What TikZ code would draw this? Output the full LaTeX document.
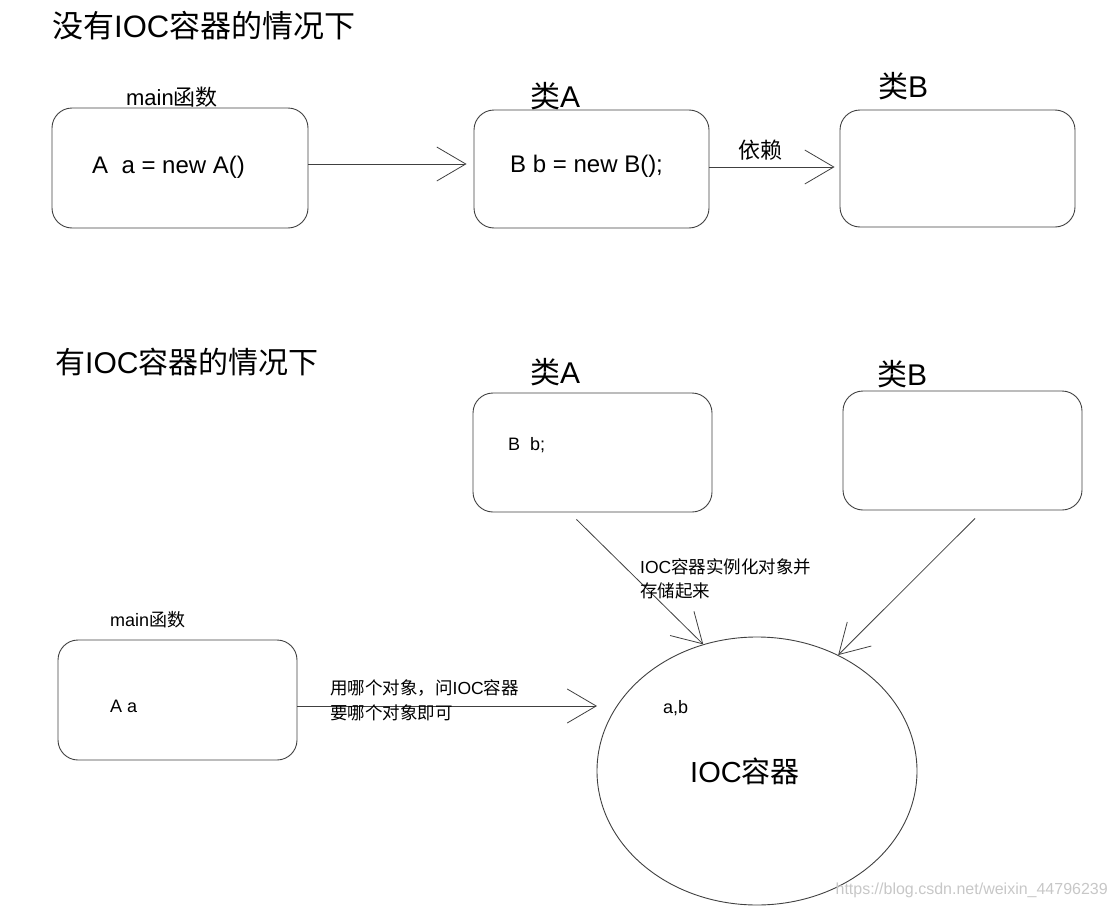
\documentclass[tikz,border=0pt]{standalone}
\usepackage{fontspec}
\setmainfont{Liberation Sans}
\newfontfamily\cjk{Noto Sans CJK SC}
\usetikzlibrary{arrows.meta,shapes.geometric}
\newcommand\zh[1]{{\cjk #1}}
\newcommand\fs[1]{\fontsize{#1}{#1}\selectfont}
\begin{document}
\begin{tikzpicture}[x=1pt,y=-1pt,
  box/.style={draw=black!75, line width=0.9pt, rounded corners=20pt, inner sep=0pt},
  ell/.style={draw=black!75, line width=0.9pt, ellipse, inner sep=0pt},
  lbl/.style={inner sep=0pt, anchor=west, text=black},
  arr/.style={draw=black!75, line width=0.8pt, -{Straight Barb[length=29pt,width=34pt,line width=0.8pt]}}
]
\useasboundingbox (0,0) rectangle (1112,910);
% ---------- top part ----------
\node[lbl, font=\fs{31}] (t1) at (52,26) {\zh{没有}IOC\zh{容器的情况下}};
\node[inner sep=0pt, font=\fs{22}] (mainlbl1) at (172,97) {main\zh{函数}};
\node[box, minimum width=256pt, minimum height=120pt] (box1) at (180,168) {};
\node[lbl, font=\fs{24}] (code1) at (92,167) {A\ \ a = new A()};
\node[lbl, font=\fs{30}] (clsA1) at (530,96) {\zh{类}A};
\node[box, minimum width=235pt, minimum height=118pt] (box2) at (591.5,169) {};
\node[lbl, font=\fs{24}] (code2) at (510,166) {B b = new B();};
\node[inner sep=0pt, font=\fs{22}] (dep) at (760,150) {\zh{依赖}};
\node[lbl, font=\fs{30}] (clsB1) at (878,86) {\zh{类}B};
\node[box, minimum width=235pt, minimum height=117pt] (box3) at (957.5,168.5) {};
\draw[arr] ([yshift=4pt]box1.east) -- ([xshift=-7pt,yshift=5pt]box2.west);
\draw[arr] ([yshift=2pt]box2.east) -- ([xshift=-5pt,yshift=1.5pt]box3.west);
% ---------- bottom part ----------
\node[lbl, font=\fs{30}] (t2) at (55,362) {\zh{有}IOC\zh{容器的情况下}};
\node[lbl, font=\fs{30}] (clsA2) at (530,372) {\zh{类}A};
\node[box, minimum width=239pt, minimum height=119pt] (boxA2) at (592.5,452.5) {};
\node[lbl, font=\fs{18}] (codeA2) at (508,445) {B\ \ b;};
\node[lbl, font=\fs{30}] (clsB2) at (877,374) {\zh{类}B};
\node[box, minimum width=239pt, minimum height=119pt] (boxB2) at (962.5,450.5) {};
\node[lbl, font=\fs{18}] (mainlbl2) at (110,620) {main\zh{函数}};
\node[box, minimum width=239pt, minimum height=120pt] (boxM2) at (177.5,700) {};
\node[lbl, font=\fs{18}] (codeM2) at (110,706) {A a};
\node[ell, minimum width=320pt, minimum height=268pt] (ell) at (757,771) {};
\node[lbl, font=\fs{18}] (ab) at (663,708) {a,b};
\node[lbl, font=\fs{29}] (ioc) at (690,771) {IOC\zh{容器}};
\coordinate (tipM) at (597,706);
\draw[arr] ([yshift=-6pt]boxM2.east) -- (tipM);
\draw[arr] ([xshift=-16pt,yshift=-7pt]boxA2.south) -- (ell.113);
\draw[arr] ([xshift=12.5pt,yshift=-8pt]boxB2.south) -- (ell.55);
\node[lbl, font=\fs{17.5}] (lab1a) at (330,688) {\zh{用哪个对象，问}IOC\zh{容器}};
\node[lbl, font=\fs{17.5}] (lab1b) at (330,713) {\zh{要哪个对象即可}};
\node[lbl, font=\fs{17.5}] (lab2a) at (640,567) {IOC\zh{容器实例化对象并}};
\node[lbl, font=\fs{17.5}] (lab2b) at (640,591) {\zh{存储起来}};
\node[inner sep=0pt, anchor=east, text=black!22, font=\fs{16}] (wm) at (1108,890) {https://blog.csdn.net/weixin\_44796239};
\end{tikzpicture}
\end{document}
